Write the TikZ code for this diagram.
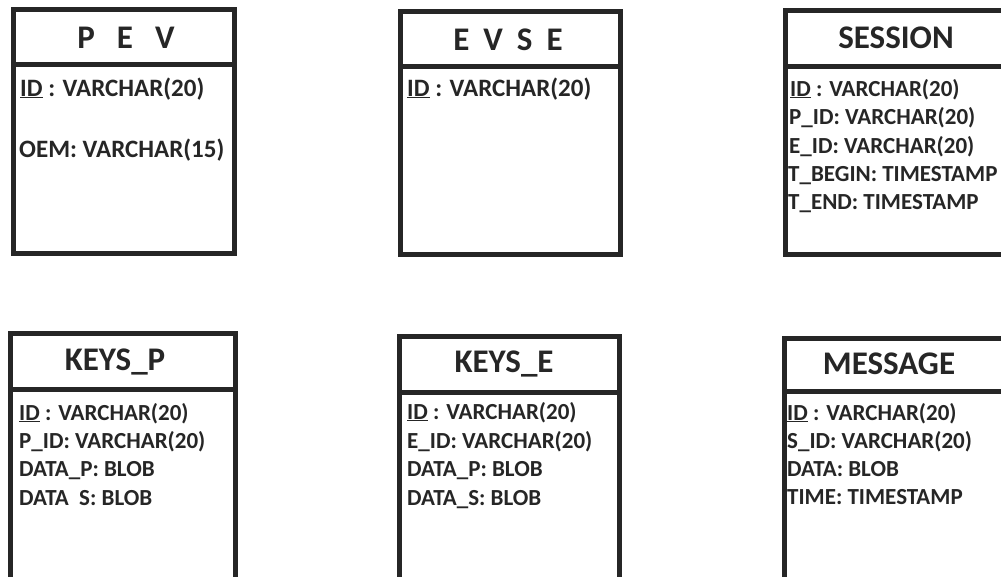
\documentclass[tikz,border=0pt]{standalone}
\usepackage{fontspec}
\setmainfont{Carlito}
\definecolor{ink}{RGB}{38,38,38}
\begin{document}
\begin{tikzpicture}[x=1pt,y=-1pt,
  tbl/.style={draw=ink,line width=5pt,fill=white},
  hdr/.style={draw=ink,line width=5pt},
  ttl/.style={anchor=base,inner sep=0pt,text=ink,font=\bfseries\fontsize{33}{36}\selectfont},
  fld/.style={anchor=base west,inner sep=0pt,text=ink,font=\bfseries\fontsize{23}{28}\selectfont},
  bigfld/.style={fld,font=\bfseries\fontsize{25}{28}\selectfont}]
\useasboundingbox (0,0) rectangle (1001,576);
\clip (0,0) rectangle (1001,576);
\fill[white] (0,0) rectangle (1001,576);
% boxes
\draw[tbl] (13,9.5) rectangle (234.5,253.5);
\draw[hdr] (13,64) -- (234.5,64);
\draw[tbl] (400,11.5) rectangle (620.5,254.5);
\draw[hdr] (400,66.5) -- (620.5,66.5);
\draw[tbl] (785.5,10) rectangle (1012,254.5);
\draw[hdr] (785.5,66.5) -- (1012,66.5);
\draw[tbl] (10,333.5) rectangle (235,600);
\draw[hdr] (10,389.5) -- (235,389.5);
\draw[tbl] (399.5,336.5) rectangle (619.5,600);
\draw[hdr] (399.5,392.5) -- (619.5,392.5);
\draw[tbl] (784.5,338.5) rectangle (1012,600);
\draw[hdr] (784.5,391.5) -- (1012,391.5);
% titles
\node[ttl] (tpev) at (126,48) {P\hspace{22pt}E\hspace{22pt}V};
\node[ttl] (tevse) at (508,50) {E\hspace{14pt}V\hspace{14pt}S\hspace{14pt}E};
\node[ttl] (tsess) at (896,48) {SESSION};
\node[ttl] (tkp) at (115,370) {KEYS\_P};
\node[ttl] (tke) at (504,372) {KEYS\_E};
\node[ttl] (tmsg) at (889,374) {MESSAGE};
% PEV fields
\node[bigfld] (p1) at (20,96) {\underline{ID} : VARCHAR(20)};
\node[bigfld] (p2) at (19,157) {OEM: VARCHAR(15)};
% EVSE fields
\node[bigfld] (e1) at (407,96) {\underline{ID} : VARCHAR(20)};
% SESSION fields
\node[fld] (s1) at (790,96) {\underline{ID} : VARCHAR(20)};
\node[fld] (s2) at (789,124) {P\_ID: VARCHAR(20)};
\node[fld] (s3) at (789,153) {E\_ID: VARCHAR(20)};
\node[fld] (s4) at (788,181) {T\_BEGIN: TIMESTAMP};
\node[fld] (s5) at (788,209) {T\_END: TIMESTAMP};
% KEYS_P fields
\node[fld] (kp1) at (19,420) {\underline{ID} : VARCHAR(20)};
\node[fld] (kp2) at (19,448) {P\_ID: VARCHAR(20)};
\node[fld] (kp3) at (19,476) {DATA\_P: BLOB};
\node[fld] (kp4) at (19,505) {DATA\ \ S: BLOB};
% KEYS_E fields
\node[fld] (ke1) at (407,419) {\underline{ID} : VARCHAR(20)};
\node[fld] (ke2) at (407,448) {E\_ID: VARCHAR(20)};
\node[fld] (ke3) at (407,476) {DATA\_P: BLOB};
\node[fld] (ke4) at (407,505) {DATA\_S: BLOB};
% MESSAGE fields
\node[fld] (m1) at (787,420) {\underline{ID} : VARCHAR(20)};
\node[fld] (m2) at (787,448) {S\_ID: VARCHAR(20)};
\node[fld] (m3) at (787,476) {DATA: BLOB};
\node[fld] (m4) at (787,504) {TIME: TIMESTAMP};
\end{tikzpicture}
\end{document}
